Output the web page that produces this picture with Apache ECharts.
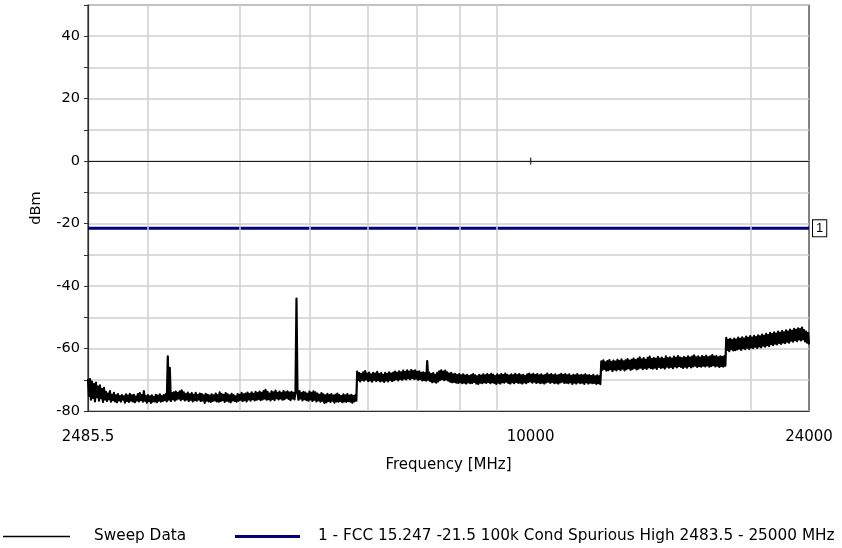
<!DOCTYPE html>
<html>
<head>
<meta charset="utf-8">
<script src="https://cdn.jsdelivr.net/npm/echarts@6/dist/echarts.min.js"></script>
<style>
  html, body { margin: 0; padding: 0; background: #fff; }
  #chart { width: 842px; height: 548px; }
</style>
</head>
<body>
<div id="chart"></div>
<script>
// Frequency axis (MHz, log scale)
const freqMin = 2485.5;
const freqMax = 24000;
const freqLabels = [2485.5, 10000, 24000];
const freqGrid = [3000, 4000, 5000, 6000, 7000, 8000, 9000, 20000];

// Level axis (dBm)
const levelMin = -80;
const levelMax = 50;
const levelStep = 10;

// Limit line: FCC 15.247 conducted spurious, high band
const limitName = '1 - FCC 15.247 -21.5 100k Cond Spurious High 2483.5 - 25000 MHz';
const limitLevel = -21.5;
const limitTag = '1';

// Sweep data, one block per analyser range: [start MHz, stop MHz] and the
// peak / floor readings (dBm) of each display bin, in order
const rangeA = [2485.5, 5780];
const sweepA = [
  -70.0, -75.2, -69.8, -76.4, -70.6, -75.8, -71.4, -76.9, -70.9, -75.6,
  -72.2, -76.7, -71.8, -75.9, -73.0, -77.1, -72.6, -76.3, -73.9, -76.8,
  -74.4, -76.2, -73.6, -77.0, -74.8, -76.5, -74.2, -76.9, -75.0, -77.2,
  -74.6, -76.6, -75.2, -77.0, -74.9, -76.4, -75.3, -77.3, -74.7, -76.8,
  -75.1, -77.1, -74.5, -76.7, -75.0, -76.9, -74.8, -77.2, -75.4, -76.6,
  -74.6, -76.9, -74.3, -76.5, -74.9, -77.0, -73.6, -76.7, -75.2, -77.3,
  -74.9, -76.8, -75.3, -77.4, -75.0, -77.0, -75.5, -76.9, -74.8, -77.2,
  -75.1, -76.7, -74.7, -77.0, -75.2, -76.8, -74.9, -76.5, -74.6, -76.9,
  -62.5, -76.4, -66.2, -76.8, -74.3, -76.2, -74.0, -76.7, -73.8, -76.3,
  -74.2, -76.0, -73.7, -76.5, -73.4, -76.1, -74.0, -76.6, -74.6, -76.3,
  -74.1, -76.8, -74.7, -76.4, -74.3, -76.9, -74.8, -76.5, -74.2, -76.7,
  -74.9, -76.3, -74.4, -76.8, -74.6, -76.6, -75.0, -77.4, -74.5, -76.7,
  -74.8, -76.9, -75.1, -77.1, -74.7, -76.8, -75.0, -76.6, -74.4, -76.9,
  -74.9, -77.0, -74.0, -76.8, -74.6, -76.5, -74.8, -77.1, -74.3, -76.7,
  -74.7, -76.9, -75.0, -77.2, -74.5, -76.6, -74.9, -76.8, -75.3, -77.0,
  -74.6, -76.7, -74.8, -76.4, -74.2, -76.8, -74.7, -76.5, -74.4, -76.9,
  -74.1, -76.3, -74.6, -76.7, -74.0, -76.2, -74.5, -76.6, -73.9, -76.4,
  -74.3, -76.1, -73.8, -76.5, -74.2, -76.3, -73.6, -76.0, -73.2, -76.4,
  -73.9, -76.2, -74.4, -76.6, -73.7, -76.1, -74.0, -76.5, -73.5, -75.9,
  -74.2, -76.3, -73.8, -76.0, -74.3, -76.4, -73.6, -76.2, -74.0, -75.8,
  -73.7, -76.1, -74.1, -76.5, -73.9, -76.0, -74.2, -76.3, -73.8, -44.0,
  -74.0, -76.4, -73.6, -76.0, -74.3, -76.6, -73.9, -76.2, -74.1, -76.5,
  -74.5, -76.7, -73.8, -76.3, -74.2, -76.8, -73.7, -76.4, -74.0, -76.9,
  -74.4, -76.6, -74.8, -77.0, -74.3, -76.7, -74.7, -77.4, -75.0, -77.2,
  -74.5, -76.8, -74.9, -77.1, -74.6, -76.7, -75.1, -77.3, -74.8, -76.9,
  -74.4, -77.0, -74.9, -76.8, -75.2, -77.2, -74.7, -76.9, -75.0, -77.1,
  -74.6, -76.8, -75.1, -77.0, -74.8, -77.3, -75.2, -76.9, -74.9, -76.7
];

const rangeB = [5795, 12450];
const sweepB = [
  -67.4, -70.1, -67.9, -70.5, -68.1, -70.0, -67.6, -70.3, -67.2, -69.9,
  -68.0, -70.4, -67.7, -70.2, -68.3, -70.6, -67.8, -70.0, -68.0, -70.4,
  -67.5, -70.1, -68.2, -70.5, -67.9, -70.3, -68.4, -70.7, -67.8, -70.2,
  -68.1, -70.5, -67.6, -70.0, -68.0, -70.4, -67.7, -70.1, -67.4, -69.8,
  -67.8, -70.2, -67.3, -69.7, -67.6, -70.0, -67.1, -69.6, -67.5, -69.9,
  -67.0, -69.5, -67.4, -69.8, -66.9, -69.4, -67.2, -69.7, -67.0, -69.6,
  -67.5, -70.0, -67.3, -69.8, -67.8, -70.2, -67.6, -70.1, -67.9, -70.3,
  -64.0, -70.0, -67.7, -70.4, -68.2, -70.8, -67.9, -70.6, -68.4, -70.9,
  -67.8, -70.5, -67.3, -70.0, -67.0, -69.8, -67.4, -70.1, -67.1, -69.9,
  -67.6, -70.3, -68.0, -70.6, -67.8, -70.8, -68.3, -70.7, -68.1, -70.9,
  -68.5, -71.0, -68.2, -70.8, -68.6, -71.1, -68.3, -70.9, -68.7, -71.2,
  -68.4, -70.8, -68.8, -71.1, -68.5, -71.0, -68.2, -70.7, -68.6, -71.2,
  -68.9, -71.3, -68.4, -70.9, -68.7, -71.1, -68.3, -70.8, -68.6, -71.0,
  -68.2, -70.7, -68.5, -71.1, -68.1, -70.8, -68.4, -71.0, -68.8, -71.3,
  -68.3, -70.9, -68.6, -71.2, -68.2, -70.8, -68.5, -70.9, -68.0, -70.6,
  -68.4, -71.0, -68.7, -71.2, -68.3, -70.8, -68.6, -71.1, -68.1, -70.7,
  -68.5, -71.0, -68.2, -70.9, -68.6, -71.2, -68.4, -70.8, -68.8, -71.1,
  -68.3, -70.7, -68.0, -70.5, -68.4, -70.9, -68.1, -70.6, -68.5, -71.0,
  -68.2, -70.8, -68.6, -71.1, -68.3, -70.9, -68.7, -71.2, -68.4, -70.8,
  -68.0, -70.6, -68.5, -71.0, -68.2, -70.7, -68.6, -71.1, -68.3, -70.9,
  -68.7, -71.2, -68.4, -70.8, -68.1, -70.6, -68.5, -71.0, -68.2, -70.9,
  -68.6, -71.1, -68.3, -70.8, -68.8, -71.3, -68.4, -70.9, -68.6, -71.2,
  -68.2, -70.8, -68.7, -71.1, -68.4, -70.9, -68.6, -71.3, -68.3, -70.8,
  -68.7, -71.2, -68.5, -70.9, -68.8, -71.1, -68.4, -71.0, -68.9, -71.3,
  -68.6, -71.1, -68.9, -71.4
];

const rangeC = [12490, 18450];
const sweepC = [
  -64.1, -66.8, -63.8, -66.5, -64.4, -67.1, -64.0, -66.9, -63.7, -66.6,
  -64.3, -67.2, -63.9, -66.7, -64.2, -67.0, -63.6, -66.5, -64.0, -66.9,
  -63.5, -66.4, -64.1, -67.0, -63.8, -66.6, -63.4, -66.3, -63.9, -66.8,
  -63.6, -66.5, -63.2, -66.2, -63.7, -66.7, -63.3, -66.4, -62.8, -66.1,
  -63.5, -66.6, -63.1, -66.2, -63.6, -66.5, -63.0, -66.0, -62.6, -66.3,
  -63.4, -66.4, -63.0, -66.1, -63.3, -66.5, -62.7, -65.9, -63.2, -66.2,
  -62.9, -66.0, -63.4, -66.4, -62.5, -65.8, -63.1, -66.1, -62.8, -65.9,
  -63.2, -66.3, -62.6, -65.7, -63.0, -66.0, -62.4, -65.6, -62.9, -65.9,
  -63.1, -66.2, -62.7, -65.8, -63.0, -66.1, -62.5, -65.6, -62.9, -66.0,
  -62.6, -65.7, -62.2, -65.5, -62.8, -65.9, -62.5, -65.6, -62.9, -65.8,
  -62.4, -65.5, -62.7, -65.7, -62.3, -65.4, -62.8, -65.8, -62.5, -65.6,
  -62.1, -65.3, -62.6, -65.7, -62.4, -65.5, -62.8, -65.9, -62.5, -65.6,
  -62.7, -65.8, -62.4, -65.5
];

const rangeD = [18500, 24000];
const sweepD = [
  -56.6, -60.4, -57.2, -60.8, -56.9, -60.2, -57.3, -60.6, -56.8, -60.5,
  -57.1, -60.3, -56.5, -60.0, -56.9, -60.4, -56.4, -59.9, -56.8, -60.2,
  -56.2, -59.7, -56.6, -60.1, -56.0, -59.6, -56.5, -59.9, -55.9, -59.4,
  -56.3, -59.8, -55.8, -59.3, -56.1, -59.6, -55.5, -59.1, -55.9, -59.4,
  -55.3, -58.9, -55.7, -59.2, -55.0, -58.6, -55.4, -58.9, -54.8, -58.4,
  -55.2, -58.7, -54.6, -58.2, -55.0, -58.5, -54.4, -58.0, -54.8, -58.3,
  -54.2, -57.8, -54.6, -58.1, -53.9, -57.5, -54.3, -57.8, -53.7, -57.3,
  -54.0, -57.6, -53.5, -57.1, -53.8, -57.4, -53.3, -57.0, -54.1, -57.7,
  -54.6, -58.1, -55.0, -58.4
];

// Small marker on the 0 dBm reference line
const refMark = [[10000, 0]];

// Readings of a range sit at evenly spaced bins across its (log) display span
function sweepPoints(range, values) {
  const n = values.length;
  const r = range[1] / range[0];
  return values.map((v, i) => [range[0] * Math.pow(r, i / (n - 1)), v]);
}

const sweep = [].concat(
  sweepPoints(rangeA, sweepA),
  sweepPoints(rangeB, sweepB),
  sweepPoints(rangeC, sweepC),
  sweepPoints(rangeD, sweepD)
);

const font = 'DejaVu Sans, Verdana, sans-serif';
const chart = echarts.init(document.getElementById('chart'), null, { renderer: 'canvas' });

chart.setOption({
  animation: false,
  backgroundColor: '#ffffff',
  grid: {
    left: 88, right: 33, top: 5, bottom: 137,
    show: true, borderColor: '#303030', borderWidth: 1.2, backgroundColor: 'transparent'
  },
  legend: [
    {
      left: 3, bottom: 4, padding: 0,
      icon: 'rect', itemWidth: 67, itemHeight: 1.5,
      textStyle: { fontFamily: font, fontSize: 15.3, color: '#000', padding: [0, 0, 0, 19] },
      data: ['Sweep Data']
    },
    {
      left: 235, bottom: 4, padding: 0,
      icon: 'rect', itemWidth: 65, itemHeight: 3,
      textStyle: { fontFamily: font, fontSize: 15.3, color: '#000', padding: [0, 0, 0, 13] },
      data: [limitName]
    }
  ],
  xAxis: {
    type: 'log', logBase: 10, min: freqMin, max: freqMax,
    name: 'Frequency [MHz]', nameLocation: 'middle', nameGap: 47,
    nameTextStyle: { fontFamily: font, fontSize: 15, color: '#000' },
    axisLine: { show: true, onZero: false, lineStyle: { color: '#303030', width: 1.2 } },
    axisTick: { show: false },
    splitLine: { show: false },
    minorSplitLine: { show: false },
    axisLabel: {
      customValues: freqLabels,
      margin: 19,
      fontFamily: font, fontSize: 15, color: '#000',
      formatter: v => String(Math.round(v * 10) / 10)
    }
  },
  yAxis: {
    type: 'value', min: levelMin, max: levelMax, interval: levelStep,
    name: 'dBm', nameLocation: 'middle', nameGap: 44,
    nameTextStyle: { fontFamily: font, fontSize: 14.5, color: '#000' },
    axisLine: { show: true, lineStyle: { color: '#303030', width: 1.2 } },
    axisTick: { show: true, length: 4, lineStyle: { color: '#303030' } },
    splitLine: { show: true, lineStyle: { color: '#cfcfcf', width: 1.5 } },
    axisLabel: {
      margin: 8,
      fontFamily: font, fontSize: 14.5, color: '#000',
      formatter: v => (v % 20 === 0 && v <= 40 ? String(v) : '')
    }
  },
  series: [
    {
      // vertical frequency grid
      name: 'grid', type: 'line', data: [], z: 1, silent: true,
      markLine: {
        silent: true, symbol: 'none', animation: false,
        label: { show: false },
        lineStyle: { color: '#cfcfcf', width: 1.5, type: 'solid' },
        data: freqGrid.map(f => ({ xAxis: f }))
      }
    },
    {
      // 0 dBm reference
      name: 'reference', type: 'line', data: [], z: 2, silent: true,
      markLine: {
        silent: true, symbol: 'none', animation: false,
        label: { show: false },
        lineStyle: { color: '#1a1a1a', width: 1.2, type: 'solid' },
        data: [{ yAxis: 0 }]
      }
    },
    {
      name: 'refMark', type: 'scatter', data: refMark, z: 3, silent: true,
      symbol: 'rect', symbolSize: [1.5, 7],
      itemStyle: { color: '#1a1a1a' }
    },
    {
      name: limitName, type: 'line', z: 4,
      data: [[freqMin, limitLevel], [freqMax, limitLevel]],
      symbol: 'none',
      lineStyle: { color: '#000080', width: 3 },
      itemStyle: { color: '#000080' },
      endLabel: {
        show: true, formatter: limitTag, distance: 4,
        fontFamily: 'Liberation Sans, Arial, sans-serif', fontSize: 13, color: '#000',
        backgroundColor: '#fff', borderColor: '#000', borderWidth: 1,
        padding: [2, 3, 1, 3]
      }
    },
    {
      name: 'Sweep Data', type: 'line', z: 5,
      data: sweep,
      symbol: 'none',
      lineStyle: { color: '#000', width: 2.2, join: 'round', cap: 'round' },
      itemStyle: { color: '#000' }
    }
  ]
});
</script>
</body>
</html>
